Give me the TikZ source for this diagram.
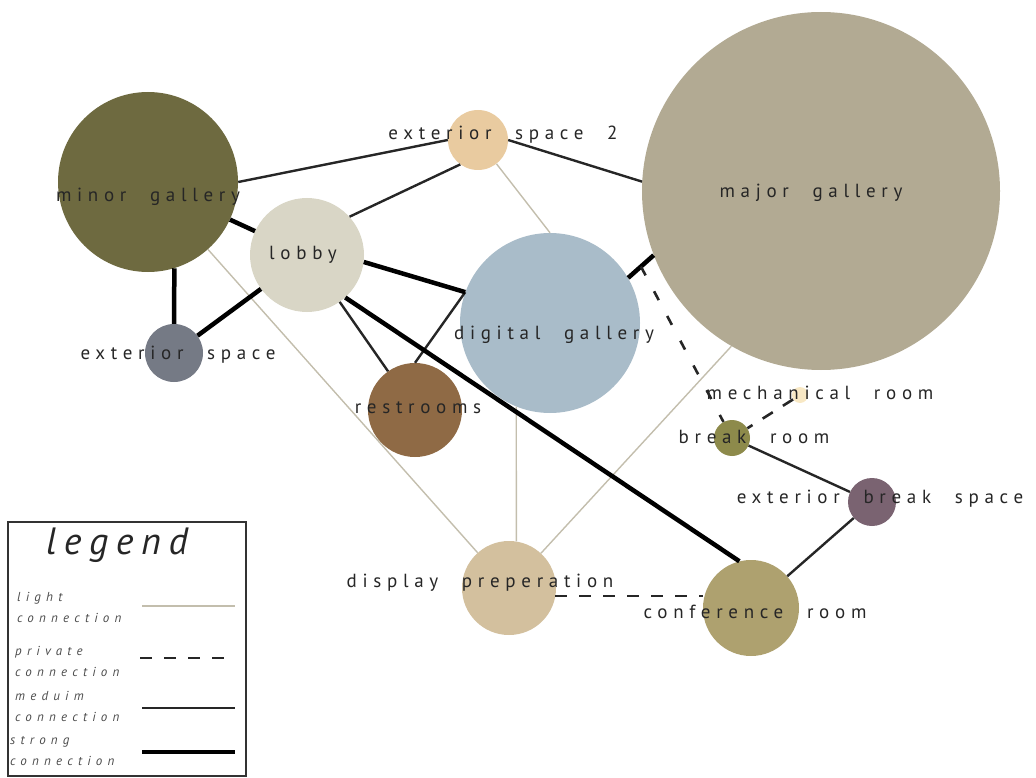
\documentclass[tikz,border=0pt]{standalone}
\usepackage{fontspec}
\usepackage{xcolor}
\newfontfamily\roomfont[LetterSpace=30, WordSpace=2.2]{PT Sans}
\newfontfamily\legfont[LetterSpace=40]{PT Sans}
\newfontfamily\titlefont[LetterSpace=20]{PT Sans}
\definecolor{minorolive}{HTML}{6E6A40}
\definecolor{majortaupe}{HTML}{B2AA93}
\definecolor{peach}{HTML}{E9CBA0}
\definecolor{lobbygray}{HTML}{D9D6C6}
\definecolor{digiblue}{HTML}{A9BCC9}
\definecolor{slate}{HTML}{757A85}
\definecolor{rustbrown}{HTML}{8F6A45}
\definecolor{paleyellow}{HTML}{F8E8C4}
\definecolor{breakolive}{HTML}{8D8A4B}
\definecolor{mauve}{HTML}{7A6371}
\definecolor{sand}{HTML}{D3C09E}
\definecolor{khaki}{HTML}{AEA16F}
\definecolor{lightline}{HTML}{C3BEAD}
\tikzset{
  room/.style={circle, inner sep=0pt, draw=none},
  lbl/.style={font={\roomfont\fontsize{19}{22}\selectfont}, text=black!85, inner sep=0pt},
  lt/.style={draw=lightline, line width=1.4pt},
  md/.style={draw=black!85, line width=2.4pt},
  st/.style={draw=black, line width=4.5pt},
  pv/.style={draw=black!85, line width=2.6pt, dash pattern=on 12pt off 12pt},
  legtxt/.style={font={\legfont\itshape\fontsize{13}{21}\selectfont}, text=black!70,
                 align=left, inner sep=0pt, anchor=west},
}

\begin{document}
\begin{tikzpicture}[x=1pt, y=-1pt]
  \useasboundingbox (0,0) rectangle (1036,778);
  % rooms
  \node[room, fill=minorolive, minimum size=180] (mig) at (148,182) {};
  \node[room, fill=majortaupe, minimum size=358] (mag) at (821,191) {};
  \node[room, fill=peach, minimum size=60] (ext2) at (478,140) {};
  \node[room, fill=lobbygray, minimum size=114] (lob) at (307,255) {};
  \node[room, fill=digiblue, minimum size=180] (dig) at (550,323) {};
  \node[room, fill=slate, minimum size=58] (ext) at (174,353) {};
  \node[room, fill=rustbrown, minimum size=94] (rest) at (415,410) {};
  \node[room, fill=paleyellow, minimum size=16] (mech) at (800,395) {};
  \node[room, fill=breakolive, minimum size=36] (brk) at (732,438) {};
  \node[room, fill=mauve, minimum size=48] (xbrk) at (872,502) {};
  \node[room, fill=sand, minimum size=94] (disp) at (509,588) {};
  \node[room, fill=khaki, minimum size=96] (conf) at (751,608) {};
  % light
  \draw[lt] (mig) -- (disp);
  \draw[lt] (ext2) -- (dig.north);
  \draw[lt] (dig.-112) -- (disp.81);
  \draw[lt] (mag.240) -- (disp);
  % medium
  \draw[md] (mig.east) -- (ext2.west);
  \draw[md] (lob.42) -- (ext2.234);
  \draw[md] (ext2.east) -- (mag.177);
  \draw[md] (lob) -- (rest);
  \draw[md] (rest.north) -- (dig.160);
  \draw[md] (brk) -- (xbrk);
  \draw[md] (xbrk) -- (conf);
  % strong
  \draw[st] (mig) -- (lob);
  \draw[st] (mig.-73) -- (ext.north);
  \draw[st] (ext) -- (lob);
  \draw[st] (lob.-7) -- (dig.160);
  \draw[st] (lob.-48) -- (conf.104);
  \draw[st] (dig.30) -- (mag.201) coordinate[pos=.5] (j);
  % private
  \draw[pv, dash pattern=on 10pt off 18pt] (j) -- (brk);
  \draw[pv] (mech) -- (brk);
  \draw[pv] (disp.-10) -- (disp.-10 -| conf.west);
  % labels
  \node[lbl] (mig-t) at (148,197) {minor gallery};
  \node[lbl] (mag-t) at (811,193) {major gallery};
  \node[lbl] (ext2-t) at (503,135) {exterior space 2};
  \node[lbl] (lob-t) at (303,255) {lobby};
  \node[lbl] (dig-t) at (554,335) {digital gallery};
  \node[lbl] (ext-t) at (178,355) {exterior space};
  \node[lbl] (rest-t) at (418,408) {restrooms};
  \node[lbl] (mech-t) at (820,393) {mechanical room};
  \node[lbl] (brk-t) at (754,437) {break room};
  \node[lbl] (xbrk-t) at (880,499) {exterior break space};
  \node[lbl] (disp-t) at (480,583) {display preperation};
  \node[lbl] (conf-t) at (755,612) {conference room};
  % legend
  \node[draw=black!80, line width=1.3pt, minimum width=238, minimum height=254,
        inner sep=0pt] (leg) at (127,649) {};
  \node[font={\titlefont\itshape\fontsize{38}{40}\selectfont}, text=black!85,
        inner sep=0pt] (leg-t) at (117,545) {legend};
  \node[legtxt] (leg-lt) at (17,607) {light\\connection};
  \node[legtxt] (leg-pv) at (15,661) {private\\connection};
  \node[legtxt] (leg-md) at (15,706) {meduim\\connection};
  \node[legtxt] (leg-st) at (10,751) {strong\\connection};
  \draw[lt] (142,606) -- (235,606);
  \draw[pv] (140,658) -- (235,658);
  \draw[md] (142,708) -- (235,708);
  \draw[st] (142,752) -- (235,752);
\end{tikzpicture}
\end{document}
